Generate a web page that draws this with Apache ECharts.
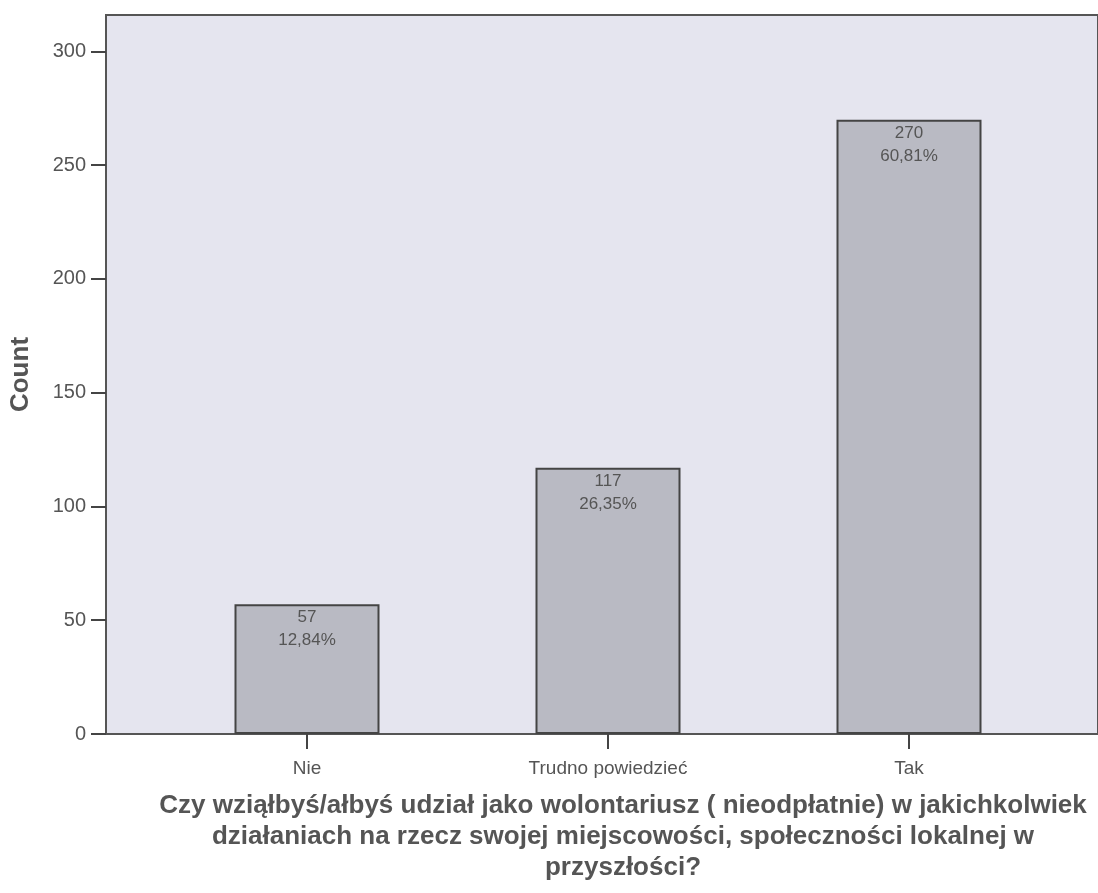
<!DOCTYPE html>
<html>
<head>
<meta charset="utf-8">
<script src="https://cdn.jsdelivr.net/npm/echarts@6/dist/echarts.min.js"></script>
<style>
  html, body { margin: 0; padding: 0; background: #fff; }
  #chart { width: 1098px; height: 893px; }
</style>
</head>
<body>
<div id="chart"></div>
<script>
var kategorie = ['Nie', 'Trudno powiedzieć', 'Tak'];
var liczby = [57, 117, 270];
var procenty = ['12,84%', '26,35%', '60,81%'];
var yMax = 316;

var myChart = echarts.init(document.getElementById('chart'));
var option = {
    textStyle: {fontFamily: 'Liberation Sans, Arial, sans-serif'},
    title: {
        text: 'Czy wziąłbyś/ałbyś udział jako wolontariusz ( nieodpłatnie) w jakichkolwiek\ndziałaniach na rzecz swojej miejscowości, społeczności lokalnej w\nprzyszłości?',
        left: 618,
        top: 785,
        textAlign: 'center',
        textStyle: {
            color: '#555',
            fontSize: 26,
            fontWeight: 'bold',
            lineHeight: 31,
            fontFamily: 'Liberation Sans, Arial, sans-serif'
        }
    },
    grid: [
        // tło obszaru wykresu
        {left: 105, top: 15, width: 1010, bottom: 159, show: true,
            backgroundColor: '#e5e5ef', borderColor: '#555', borderWidth: 2},
        // słupki
        {left: 156.5, top: 15, width: 903, bottom: 159}
    ],
    xAxis: [
        {gridIndex: 0, type: 'value', show: false, min: 0, max: 1},
        {
            gridIndex: 1,
            type: 'category',
            data: kategorie,
            axisLine: {show: false},
            axisTick: {show: true, alignWithLabel: true, length: 15, lineStyle: {color: '#444', width: 2}},
            axisLabel: {color: '#555', fontSize: 19, margin: 25}
        }
    ],
    yAxis: [
        {
            gridIndex: 0,
            type: 'value',
            min: 0,
            max: yMax,
            interval: 50,
            name: 'Count',
            nameLocation: 'middle',
            nameRotate: 90,
            nameGap: 72,
            nameTextStyle: {color: '#555', fontSize: 26, fontWeight: 'bold'},
            axisLine: {show: false},
            axisTick: {show: true, length: 15, lineStyle: {color: '#444', width: 2}},
            axisLabel: {color: '#555', fontSize: 20, margin: 20,
                showMaxLabel: false},
            splitLine: {show: false}
        },
        {gridIndex: 1, type: 'value', min: 0, max: yMax, show: false, splitLine: {show: false}}
    ],
    series: [
        {
            type: 'bar',
            xAxisIndex: 1,
            yAxisIndex: 1,
            data: liczby,
            barWidth: 145,
            itemStyle: {color: '#b9bac3', borderColor: '#444', borderWidth: 2},
            label: {
                show: true,
                position: 'insideTop',
                distance: 2,
                color: '#555',
                fontSize: 17,
                lineHeight: 23,
                formatter: function (p) {
                    return p.value + '\n' + procenty[p.dataIndex];
                }
            }
        }
    ]
};
myChart.setOption(option);
</script>
</body>
</html>
